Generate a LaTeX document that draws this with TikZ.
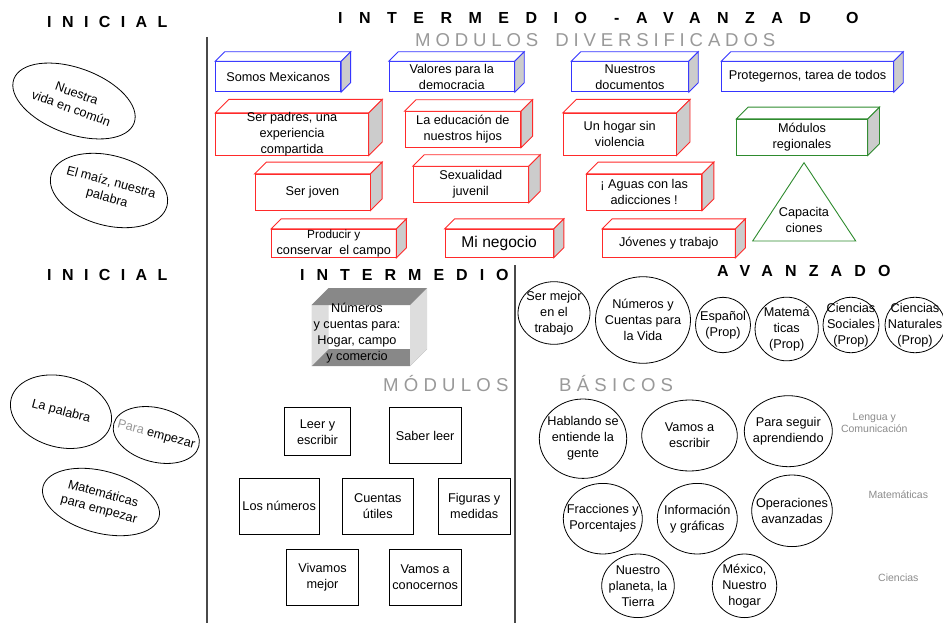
\documentclass[tikz,border=0pt]{standalone}
\usepackage{fontspec}
\setmainfont{Liberation Sans}
\usetikzlibrary{shapes.geometric}

\definecolor{azul}{HTML}{3535FF}
\definecolor{rojo}{HTML}{FF2A2A}
\definecolor{verde}{HTML}{2E8B2E}
\definecolor{lado}{HTML}{CCCCCC}
\definecolor{gristit}{HTML}{999999}
\definecolor{grisetq}{HTML}{8C8C8C}
\definecolor{grisosc}{HTML}{888888}
\definecolor{grisclaro}{HTML}{DDDDDD}
\definecolor{raya}{HTML}{4A4A4A}

\tikzset{
  every node/.style={font=\fontsize{12.7}{16}\selectfont, align=center, inner sep=0pt},
  titulo/.style={anchor=base west, font=\fontsize{16}{18}\selectfont\bfseries\addfontfeatures{LetterSpace=#1}},
  subtitulo/.style={anchor=base west, text=gristit, font=\fontsize{18.6}{20}\selectfont\addfontfeatures{LetterSpace=#1}},
  frente/.style={draw=#1, fill=white, line width=0.9pt},
  circulo/.style={ellipse, draw, line width=0.8pt},
  cuadro/.style={draw, line width=0.8pt},
  area/.style={text=grisetq, font=\fontsize{10.5}{12}\selectfont},
}

% caja: name, colour, centre, width, height, depth, text
\newcommand{\caja}[7]{%
  \node[frente=#2, minimum width=#4, minimum height=#5] (#1) at #3 {};
  \draw[#2, line width=0.9pt, fill=white] (#1.north west) -- ++(#6,-#6)
    -- ([shift={(#6,-#6)}]#1.north east) -- (#1.north east) -- cycle;
  \draw[#2, line width=0.9pt, fill=lado] (#1.north east) -- ++(#6,-#6)
    -- ([shift={(#6,-#6)}]#1.south east) -- (#1.south east) -- cycle;
  \node (#1-txt) at (#1.center) {#7};
}
% burbuja: [options], name, centre, width, height, text
\newcommand{\burbuja}[6][]{%
  \node[circulo, minimum width=#4, minimum height=#5, #1] (#2) at #3 {};
  \node[#1] (#2-txt) at (#2.center) {#6};
}

\begin{document}
\begin{tikzpicture}[x=1pt, y=-1pt]
  \path[use as bounding box, fill=white] (0,0) rectangle (943,623);

  % titulos
  \node[titulo=65] (inicialA) at (47,27.3) {INICIAL};
  \node[titulo=103] (intA) at (338,24) {INTERMEDIO};
  \node[titulo=0] (guion) at (614,24) {-};
  \node[titulo=103] (avA) at (636,24) {AVANZAD};
  \node[titulo=0] (avO) at (846,24) {O};
  \node[subtitulo=26] (diversif) at (415,46.7) {MODULOS\hspace{7pt} DIVERSIFICADOS};
  \node[titulo=65] (inicialB) at (47,280) {INICIAL};
  \node[titulo=75] (intermedio) at (300,280) {INTERMEDIO};
  \node[titulo=76] (avanzado) at (717,276) {AVANZADO};
  \node[subtitulo=28] (modulos) at (383,391) {MÓDULOS};
  \node[subtitulo=28] (basicos) at (559,391) {BÁSICOS};

  \draw[raya, line width=1.2pt] (207,37) -- (207,623);
  \draw[raya, line width=1.2pt] (515,265) -- (515,623);

  % diversificados
  \caja{somos}{azul}{(278.2,76.7)}{125}{30}{9.5}{Somos Mexicanos}
  \caja{valores}{azul}{(451.8,76.7)}{125}{30}{9.5}{Valores para la\\democracia}
  \caja{documentos}{azul}{(630,76.7)}{116.6}{30}{9.5}{Nuestros\\documentos}
  \caja{protegernos}{azul}{(807.5,76.7)}{171.6}{30}{9.5}{Protegernos, tarea de todos}
  \caja{padres}{rojo}{(292,134.2)}{152.6}{41.7}{13.5}{Ser padres, una\\experiencia\\compartida}
  \caja{educacion}{rojo}{(462.8,129.5)}{115.7}{35.6}{11.5}{La educación de\\nuestros hijos}
  \caja{hogar}{rojo}{(619.7,134.2)}{112.7}{41.7}{13.5}{Un hogar sin\\violencia}
  \caja{regionales}{verde}{(802,137.2)}{130.6}{35.7}{11.7}{Módulos\\regionales}
  \caja{joven}{rojo}{(312.5,192.2)}{115}{35.7}{11.7}{Ser joven}
  \caja{sexualidad}{rojo}{(470.8,184.5)}{115}{35.6}{11.5}{Sexualidad\\juvenil}
  \caja{aguas}{rojo}{(644.2,192.2)}{115}{35.7}{11.7}{¡ Aguas con las\\adicciones !}
  \caja{producir}{rojo}{(333.8,243.3)}{124.3}{28}{10}{\fontsize{11.8}{13.5}\selectfont Producir y\\conservar\ \ el campo}
  \caja{negocio}{rojo}{(499.2,243.3)}{108.3}{28}{10}{\fontsize{15.6}{18}\selectfont Mi negocio}
  \caja{jovenes}{rojo}{(668.8,243.3)}{132.3}{28}{10}{Jóvenes y trabajo}

  \coordinate (tri) at (804,162.7);
  \draw[verde, line width=0.9pt] (tri) -- (855.7,241) -- (752.7,241) -- cycle;
  \node (capacita) at (804,220) {Capacita\\ciones};

  % inicial
  \burbuja[rotate=-20]{nvida}{(74,101)}{128}{66}{Nuestra\\vida en común}
  \burbuja[rotate=-15]{maiz}{(109,190.5)}{120}{70}{El maíz, nuestra\\palabra}
  \burbuja[rotate=-15]{palabra}{(61,411.7)}{103}{71}{La palabra}
  \burbuja[rotate=-15]{paraemp}{(156.3,435)}{88}{54}{\textcolor{gristit}{Para} empezar}
  \burbuja[rotate=-15]{matemp}{(101,502)}{120}{62}{Matemáticas\\para empezar}

  % intermedio
  \fill[grisosc] (311.7,366) -- (328.7,349) -- (427,349) -- (410,366) -- cycle;
  \fill[grisclaro] (311.7,305) -- (328.7,288) -- (328.7,349) -- (311.7,366) -- cycle;
  \fill[grisclaro] (410,305) -- (427,288) -- (427,349) -- (410,366) -- cycle;
  \fill[grisosc] (311.7,305) -- (328.7,288) -- (427,288) -- (410,305) -- cycle;
  \node (cuentasHogar) at (357,333.5) {Números\\y cuentas para:\\Hogar, campo\\y comercio};

  \node[cuadro, minimum width=66.4, minimum height=48] (leer) at (317.5,431.7) {Leer y\\escribir};
  \node[cuadro, minimum width=71.7, minimum height=55.6] (saber) at (425.2,435.5) {Saber leer};
  \node[cuadro, minimum width=79.7, minimum height=56] (numeros) at (279.2,506.3) {Los números};
  \node[cuadro, minimum width=71, minimum height=56] (cuentas) at (377.8,506.3) {Cuentas\\útiles};
  \node[cuadro, minimum width=71.7, minimum height=56] (figuras) at (474.2,506.3) {Figuras y\\medidas};
  \node[cuadro, minimum width=71.6, minimum height=55.7] (vivamos) at (322.5,577.2) {Vivamos\\mejor};
  \node[cuadro, minimum width=71.7, minimum height=55.7] (conocernos) at (425.2,577.2) {Vamos a\\conocernos};

  % avanzado
  \burbuja{mejor}{(554,313)}{72}{62.6}{Ser mejor\\en el\\trabajo}
  \burbuja{numvida}{(643,320)}{95}{86.6}{Números y\\Cuentas para\\la Vida}
  \burbuja{espanol}{(723,325)}{55}{55.4}{Español\\(Prop)}
  \burbuja{matematicas}{(786.7,329)}{63.3}{63.6}{Matemá\\ticas\\(Prop)}
  \burbuja{csociales}{(851,325)}{56}{55.4}{Ciencias\\Sociales\\(Prop)}
  \burbuja{cnaturales}{(915,325)}{60}{55.4}{Ciencias\\Naturales\\(Prop)}

  \burbuja{hablando}{(583,438.7)}{87.4}{79.4}{Hablando se\\entiende la\\gente}
  \burbuja{escribir}{(689.5,435.5)}{95.6}{71}{Vamos a\\escribir}
  \burbuja{seguir}{(788.3,431.2)}{88}{71}{Para seguir\\aprendiendo}
  \burbuja{fracciones}{(602.8,518.7)}{79}{70.6}{Fracciones y\\Porcentajes}
  \burbuja{informacion}{(697.3,518.7)}{80}{70.6}{Información\\y gráficas}
  \burbuja{operaciones}{(792,510.8)}{80.6}{71.6}{Operaciones\\avanzadas}
  \burbuja{planeta}{(638,585.8)}{72.6}{63.6}{Nuestro\\planeta, la\\Tierra}
  \burbuja{mexico}{(744.5,585.8)}{64.4}{63.6}{México,\\Nuestro\\hogar}

  \node[area] (lengua) at (874.3,423) {Lengua y\\Comunicación};
  \node[area] (matearea) at (898.3,494.3) {Matemáticas};
  \node[area] (ciencias) at (898.3,577.3) {Ciencias};
\end{tikzpicture}
\end{document}
